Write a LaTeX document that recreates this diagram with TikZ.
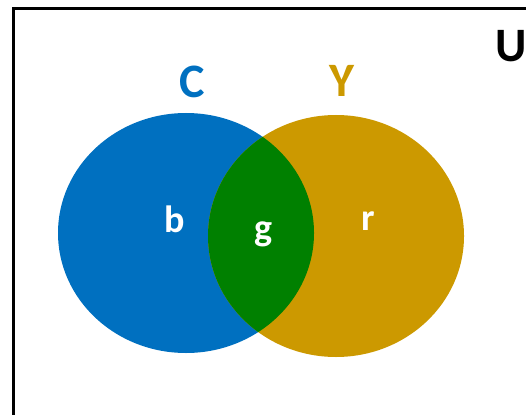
\documentclass[tikz,border=0pt]{standalone}
\usepackage{fontspec}
\setmainfont{Carlito}
\definecolor{setblue}{HTML}{0070C0}
\definecolor{setgold}{HTML}{CC9900}
\definecolor{setgreen}{HTML}{008000}
\tikzset{
  setname/.style={font=\fontsize{48}{48}\selectfont\bfseries,anchor=base,inner sep=0pt},
  part/.style={font=\fontsize{38}{38}\selectfont\bfseries,text=white,anchor=base,inner sep=0pt}
}
\begin{document}
\begin{tikzpicture}[x=1pt,y=-1pt]
        \useasboundingbox (0,0) rectangle (526,414);
        \draw [line width=3pt] (13.5,9) rectangle (560,440);
        % the two sets
        \fill [setblue] (186,233) ellipse [x radius=128, y radius=120];
        \fill [setgold] (336,236) ellipse [x radius=128, y radius=121];
        \begin{scope}
        \clip (186,233) ellipse [x radius=128, y radius=120];
        \fill [setgreen] (336,236) ellipse [x radius=128, y radius=121];
        \end{scope}
        \node [setname,text=setblue] (C) at (192,98) {C};
        \node [setname,text=setgold] (Y) at (342,97) {Y};
        \node [setname] (U) at (511,62) {U};
        \node [part] (b) at (175,232) {b};
        \node [part] (g) at (264,240) {g};
        \node [part] (r) at (368,230) {r};
    \end{tikzpicture}
\end{document}
